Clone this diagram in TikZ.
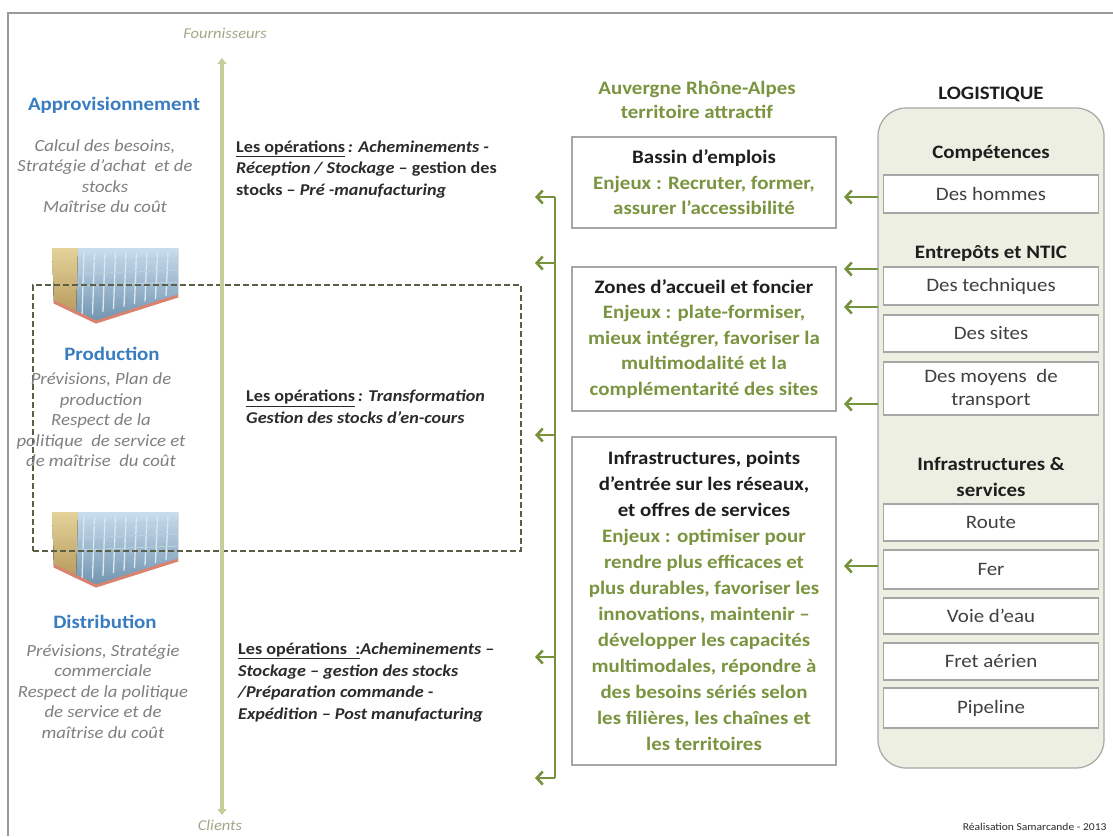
\documentclass[tikz,border=0pt]{standalone}
\usepackage{fontspec}
\setmainfont{Carlito}[FakeStretch=1.1]
\usetikzlibrary{arrows.meta}

\definecolor{framegray}{HTML}{9A9A9A}
\definecolor{headblue}{HTML}{3A7CC0}
\definecolor{descgray}{HTML}{7F7F7F}
\definecolor{opsblack}{HTML}{2B2B2B}
\definecolor{titleblack}{HTML}{1E1E1E}
\definecolor{txtgreen}{HTML}{7A9440}
\definecolor{arrowgreen}{HTML}{76923C}
\definecolor{linegreen}{HTML}{C2CE9C}
\definecolor{flowtext}{HTML}{A2A887}
\definecolor{dashcol}{HTML}{5B5F48}
\definecolor{boxgray}{HTML}{A6A6A6}
\definecolor{panelfill}{HTML}{EDEFE2}
\definecolor{itemtext}{HTML}{404040}
\definecolor{skyblue}{HTML}{C9DDEE}
\definecolor{shelfblue}{HTML}{6F93AE}
\definecolor{wallsand}{HTML}{E3D39A}
\definecolor{wallochre}{HTML}{B99A5C}
\definecolor{rackline}{HTML}{DCE8F0}
\definecolor{baserose}{HTML}{D9826F}

\tikzset{
  flowlabel/.style={font=\fontsize{15}{17}\selectfont\itshape, text=flowtext},
  lefthead/.style={font=\fontsize{19}{22}\selectfont\bfseries, text=headblue},
  leftdesc/.style={font=\fontsize{17}{20.5}\selectfont\itshape, text=descgray, align=center},
  opsblock/.style={font=\fontsize{16.5}{21.5}\selectfont\bfseries, text=opsblack, align=left, anchor=west, inner sep=0pt},
  zonehead/.style={font=\fontsize{19}{24}\selectfont\bfseries, text=txtgreen, align=center},
  midbox/.style={draw=boxgray, line width=1.4, minimum width=264, align=center, inner sep=0pt,
                 font=\fontsize{19}{25.5}\selectfont\bfseries, text=txtgreen},
  panelhead/.style={font=\fontsize{19}{26}\selectfont\bfseries, text=titleblack, align=center},
  itembox/.style={draw=boxgray, line width=1.2, fill=white, minimum width=215, align=center,
                  inner sep=0pt, font=\fontsize{19}{23}\selectfont, text=itemtext},
  gline/.style={draw=arrowgreen, line width=2.6},
  garrow/.style={draw=arrowgreen, line width=2.6, -{Straight Barb[length=6pt,width=13pt]}},
  supplyline/.style={draw=linegreen, line width=4.5,
                     {Triangle[length=6pt,width=9pt]}-{Triangle[length=6pt,width=9pt]}},
  dashbox/.style={draw=dashcol, line width=1.4, dash pattern=on 6pt off 3pt},
  warehouse/.pic={
    % shelving block seen from above
    \fill[top color=skyblue, bottom color=shelfblue] (0,0) -- (126,0) -- (126,48) -- (44,74) -- (2,54) -- cycle;
    % side wall
    \fill[top color=wallsand, bottom color=wallochre] (0,0) -- (26,0) -- (24,66) -- (2,54) -- cycle;
    % rack rows
    \foreach \k in {0,...,8}
      \draw[rackline, line width=1.3] ({32+\k*10.5},5) -- ({30+\k*10.5},{69-\k*2.6});
    \foreach \r in {14,26,38}
      \draw[rackline!70!shelfblue, line width=1] (26,\r) -- (126,\r-4);
    % floor edge
    \draw[baserose, line width=3, line join=round] (2,54) -- (44,74) -- (126,48);
  }
}

\begin{document}
\begin{tikzpicture}[x=1pt,y=-1pt]
\useasboundingbox (0,0) rectangle (1113,836);
\fill[white] (0,0) rectangle (1113,836);

% outer frame
\draw[framegray, line width=1.2] (1113,13) -- (8,13) -- (8,836);

% pictures of the sites
\pic at (52,248) {warehouse};
\pic at (52,512) {warehouse};

% production zone
\node[dashbox, minimum width=488, minimum height=266] (prodzone) at (277,418) {};

% supply chain axis
\node[flowlabel] (fourn) at (225,33) {Fournisseurs};
\node[flowlabel] (clients) at (220,825) {Clients};
\coordinate (axtop) at (222,58);
\coordinate (axbot) at (222,815);
\draw[supplyline] (axbot) -- (axtop);

% left column
\node[lefthead] (appro) at (114,105) {Approvisionnement};
\node[leftdesc] (approdesc) at (105,176) {Calcul des besoins,\\ Stratégie d'achat \ et de\\ stocks\\ Maîtrise du coût};
\node[lefthead] (prod) at (112,354) {Production};
\node[leftdesc] (proddesc) at (101,420) {Prévisions, Plan de\\ production\\ Respect de la\\ politique \ de service et\\ de maîtrise \ du coût};
\node[lefthead] (distri) at (105,622) {Distribution};
\node[leftdesc] (distdesc) at (103,691.5) {Prévisions, Stratégie\\ commerciale\\ Respect de la politique\\ de service et de\\ maîtrise du coût};

% operations
\node[opsblock] (ops1) at (236,169.5) {\underline{Les opérations}\textit{\,: Acheminements -}\\ \textit{Réception / Stockage – }gestion des\\ stocks – \textit{Pré -manufacturing}};
\node[opsblock] (ops2) at (246,407) {\underline{Les opérations}\textit{\,: Transformation}\\ \textit{Gestion des stocks d'en-cours}};
\node[opsblock] (ops3) at (238,682.5) {\underline{Les opérations \ :}\textit{Acheminements –}\\ \textit{Stockage – gestion des stocks}\\ \textit{/Préparation commande -}\\ \textit{Expédition – Post manufacturing}};

% territory
\node[zonehead] (terr) at (697,100) {Auvergne Rhône-Alpes\\ territoire attractif};
\node[midbox, minimum height=91] (bassin) at (704,182.5)
  {\textcolor{titleblack}{Bassin d'emplois}\\ Enjeux : Recruter, former,\\ assurer l'accessibilité};
\node[midbox, minimum height=144] (zones) at (704,339)
  {\textcolor{titleblack}{Zones d'accueil et foncier}\\ Enjeux : plate-formiser,\\ mieux intégrer, favoriser la\\ multimodalité et la\\ complémentarité des sites};
\node[midbox, minimum height=328, font=\fontsize{19}{26}\selectfont\bfseries] (infra) at (704,601)
  {\textcolor{titleblack}{Infrastructures, points}\\ \textcolor{titleblack}{d'entrée sur les réseaux,}\\ \textcolor{titleblack}{et offres de services}\\
   Enjeux : optimiser pour\\ rendre plus efficaces et\\ plus durables, favoriser les\\ innovations, maintenir –\\
   développer les capacités\\ multimodales, répondre à\\ des besoins sériés selon\\ les filières, les chaînes et\\ les territoires};

% bracket towards the operations
\coordinate (bk1) at (555,197);
\coordinate (bk2) at (555,263);
\coordinate (bk3) at (555,435);
\coordinate (bk4) at (555,657);
\coordinate (bk5) at (555,778);
\coordinate (tp1) at (535,197);
\coordinate (tp2) at (535,263);
\coordinate (tp3) at (535,435);
\coordinate (tp4) at (535,657);
\coordinate (tp5) at (535,778);
\draw[gline] (bk1) -- (bk5);
\foreach \i in {1,...,5} \draw[garrow] (bk\i) -- (tp\i);

% logistics panel
\node[panelhead] (logtitle) at (991,94) {LOGISTIQUE};
\node[draw=boxgray, line width=1.2, fill=panelfill, rounded corners=28, minimum width=226, minimum height=660] (logi) at (991,438) {};
\node[panelhead] (comp) at (991,153) {Compétences};
\node[itembox, minimum height=38] (hommes) at (991,194) {Des hommes};
\node[panelhead] (entre) at (991,254) {Entrepôts et NTIC};
\node[itembox, minimum height=38] (techn) at (991,286) {Des techniques};
\node[itembox, minimum height=37] (sites) at (991,333.5) {Des sites};
\node[itembox, minimum height=53] (moyens) at (991,388.5) {Des moyens \ de\\ transport};
\node[panelhead] (infserv) at (991,477) {Infrastructures \&\\ services};
\node[itembox, minimum height=37] (route) at (991,522.5) {Route};
\node[itembox, minimum height=39] (fer) at (991,569.5) {Fer};
\node[itembox, minimum height=36] (voie) at (991,616) {Voie d'eau};
\node[itembox, minimum height=37] (fret) at (991,661.5) {Fret aérien};
\node[itembox, minimum height=40] (pipe) at (991,708) {Pipeline};

% arrows from the logistics panel
\coordinate (rs1) at (878,197);
\coordinate (rs2) at (878,269);
\coordinate (rs3) at (878,307);
\coordinate (rs4) at (878,404);
\coordinate (rs5) at (878,566);
\coordinate (rt1) at (844,197);
\coordinate (rt2) at (844,269);
\coordinate (rt3) at (844,307);
\coordinate (rt4) at (844,404);
\coordinate (rt5) at (844,566);
\foreach \i in {1,...,5} \draw[garrow] (rs\i) -- (rt\i);

% credit
\node[font=\fontsize{10.5}{12}\selectfont, text=opsblack, anchor=east] (credit) at (1110,827) {Réalisation Samarcande - 2013};
\end{tikzpicture}
\end{document}
